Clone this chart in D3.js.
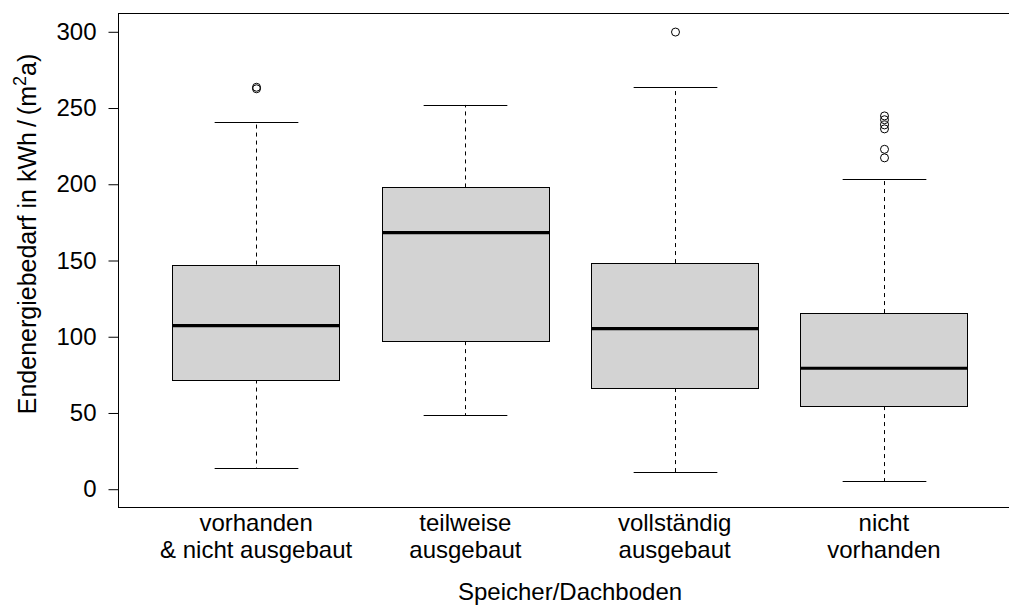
<!DOCTYPE html>
<html>
<head>
<meta charset="utf-8">
<script src="https://cdn.jsdelivr.net/npm/d3@7"></script>
<style>
  html, body { margin: 0; padding: 0; background: #fff; }
  svg { display: block; font-family: "Liberation Sans", Arial, Helvetica, sans-serif; }
</style>
</head>
<body>
<svg id="chart" width="1009" height="606"></svg>
<script>
// ---- data ----
const categories = [
  ["vorhanden", "& nicht ausgebaut"],
  ["teilweise", "ausgebaut"],
  ["vollständig", "ausgebaut"],
  ["nicht", "vorhanden"]
];
const lowerWhisker = [13.5, 48.2, 10.8, 4.9];
const q1 = [71.6, 96.8, 66.0, 54.2];
const median = [107.0, 168.0, 105.0, 79.0];
const q3 = [147.0, 197.6, 148.0, 115.2];
const upperWhisker = [240.6, 251.7, 263.3, 203.2];
const outliers = [
  [263.3, 262.3],
  [],
  [299.5],
  [244.5, 242.0, 238.6, 236.0, 222.6, 217.0]
];
const yTicks = [0, 50, 100, 150, 200, 250, 300];
const xTitle = "Speicher/Dachboden";

// ---- layout ----
(function () {
const svg = d3.select("#chart");
const mLeft = 118, mRight = 1022, mTop = 13, mBottom = 507;
const fontSize = 24;

const x = d3.scaleLinear().domain([0.34, 4.66]).range([mLeft, mRight]);
const y = d3.scaleLinear().domain([-12, 312]).range([mBottom, mTop]);
const boxW = x(0.8) - x(0);
const capW = boxW / 2;

const data = categories.map((c, i) => ({
  i, c, lo: lowerWhisker[i], q1: q1[i], med: median[i], q3: q3[i], hi: upperWhisker[i], out: outliers[i]
}));

const g = svg.append("g");

data.forEach(d => {
  const cx = Math.round(x(d.i + 1)) + 0.5;
  g.append("line").attr("x1", cx).attr("x2", cx)
    .attr("y1", y(d.q3)).attr("y2", y(d.hi))
    .attr("stroke", "#000").attr("stroke-width", 1).attr("stroke-dasharray", "4,4");
  g.append("line").attr("x1", cx).attr("x2", cx)
    .attr("y1", y(d.q1)).attr("y2", y(d.lo))
    .attr("stroke", "#000").attr("stroke-width", 1).attr("stroke-dasharray", "4,4");
  [d.hi, d.lo].forEach(v => {
    const yy = Math.round(y(v)) + 0.5;
    g.append("line").attr("x1", cx - capW / 2).attr("x2", cx + capW / 2)
      .attr("y1", yy).attr("y2", yy)
      .attr("stroke", "#000").attr("stroke-width", 1);
  });
  const bx = Math.round(x(d.i + 1) - boxW / 2) + 0.5;
  const by = Math.round(y(d.q3)) + 0.5;
  const bh = Math.round(y(d.q1)) - Math.round(y(d.q3));
  g.append("rect").attr("x", bx).attr("y", by).attr("width", Math.round(boxW)).attr("height", bh)
    .attr("fill", "#d3d3d3").attr("stroke", "#000").attr("stroke-width", 1);
  g.append("line").attr("x1", bx).attr("x2", bx + Math.round(boxW))
    .attr("y1", y(d.med)).attr("y2", y(d.med))
    .attr("stroke", "#000").attr("stroke-width", 3.2);
  d.out.forEach(v => {
    g.append("circle").attr("cx", cx).attr("cy", y(v)).attr("r", 4)
      .attr("fill", "none").attr("stroke", "#000").attr("stroke-width", 1);
  });
});

svg.append("rect").attr("x", mLeft + 0.5).attr("y", mTop + 0.5)
  .attr("width", mRight - mLeft).attr("height", mBottom - mTop)
  .attr("fill", "none").attr("stroke", "#000").attr("stroke-width", 1);

const yAxis = d3.axisLeft(y).tickValues(yTicks).tickSize(10).tickPadding(12).tickFormat(d3.format("d"));
const ya = svg.append("g").attr("transform", `translate(${mLeft + 0.5},0.5)`).call(yAxis);
ya.select(".domain").remove();
ya.selectAll(".tick line").attr("stroke", "#000");
ya.selectAll(".tick text").attr("font-size", fontSize).attr("font-family", "Liberation Sans, Arial, sans-serif").attr("fill", "#000");

data.forEach(d => {
  const t = svg.append("text").attr("x", x(d.i + 1)).attr("text-anchor", "middle")
    .attr("font-size", fontSize).attr("fill", "#000");
  t.append("tspan").attr("x", x(d.i + 1)).attr("y", 531).text(d.c[0]);
  t.append("tspan").attr("x", x(d.i + 1)).attr("y", 558).text(d.c[1]);
});

svg.append("text").attr("x", (mLeft + mRight) / 2).attr("y", 600)
  .attr("text-anchor", "middle").attr("font-size", fontSize).attr("fill", "#000").text(xTitle);

const yt = svg.append("text").attr("transform", "translate(36,234) rotate(-90)")
  .attr("text-anchor", "middle").attr("font-size", 25).attr("fill", "#000");
yt.append("tspan").text("Endenergiebedarf in kWh\u2009/\u2009(m");
yt.append("tspan").attr("dy", -10).attr("font-size", 18).text("2");
yt.append("tspan").attr("dy", 10).text("a)");
})();
</script>
</body>
</html>
